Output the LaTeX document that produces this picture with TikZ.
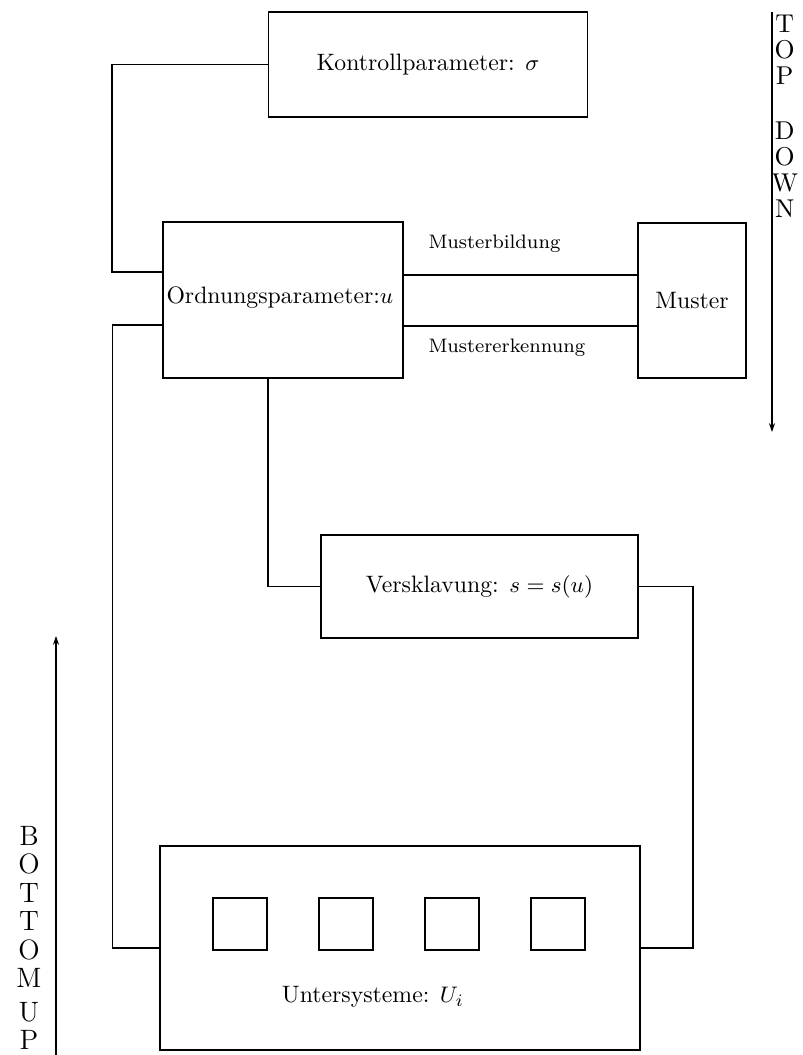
\documentclass[tikz,border=0pt]{standalone}
\usetikzlibrary{arrows.meta}
\begin{document}
\begin{tikzpicture}[x=0.4pt,y=-0.4pt,
  every node/.style={inner sep=0pt},
  box/.style 2 args={draw,line width=0.6pt,rectangle,
    minimum width=#1*0.4pt,minimum height=#2*0.4pt},
  boxtext/.style={font=\fontsize{9.5}{11}\selectfont},
  flowlabel/.style={font=\fontsize{7.8}{10}\selectfont,anchor=west},
  wire/.style={line width=0.6pt},
  sidearrow/.style={line width=0.6pt,-{Stealth[length=3.5pt,width=2.4pt]}},
  sidetext/.style={align=center}]
\useasboundingbox (0,0) rectangle (802,1055);

% main blocks
\node[box={319}{105},boxtext] (kontroll) at (428,64.5) {Kontrollparameter: $\sigma$};
\node[box={240}{156}] (ordnung) at (283,300) {};
\node[boxtext,anchor=west] (ordtext) at (166,298) {Ordnungsparameter:$u$};
\node[box={108}{155},boxtext] (muster) at (692,300.5) {Muster};
\node[box={317}{103},boxtext] (versk) at (479.5,586.5) {Versklavung: $s=s(u)$};
\node[box={480}{204}] (unter) at (400,948) {};
\node[boxtext] (untertext) at (373,997) {Untersysteme: $U_i$};

% subsystems
\foreach \cx [count=\k] in {240,346,452,558}
  \node[box={54}{52}] (sub\k) at (\cx,924) {};

% pattern formation / recognition
\draw[wire] ([yshift=10pt]ordnung.east) -- ([yshift=10pt]ordnung.east -| muster.west);
\draw[wire] ([yshift=-10.4pt]ordnung.east) -- ([yshift=-10.4pt]ordnung.east -| muster.west);
\node[flowlabel] (mbild) at (428,244) {Musterbildung};
\node[flowlabel] (merk) at (428,348) {Mustererkennung};

% feedback paths
\draw[wire] (kontroll.west) -- ++(-156,0) |- ([yshift=11.2pt]ordnung.west);
\draw[wire] ([yshift=-10pt]ordnung.west) -- ++(-50,0) |- (unter.west);
\draw[wire] ([xshift=-6pt]ordnung.south) |- (versk.west);
\draw[wire] (versk.east) -- ++(54,0) |- (unter.east);

% direction markers
\coordinate (tdtop) at (772,12);
\coordinate (tdend) at (772,432);
\draw[sidearrow] (tdtop) -- (tdend);
\node[sidetext,anchor=north west,font=\fontsize{10.3}{10.4}\selectfont] (tdlabel) at (771,15)
  {T\\O\\P\\[11.4pt]D\\O\\W\\N};

\coordinate (bubot) at (56,1055);
\coordinate (butop) at (56,636);
\draw[sidearrow] (bubot) -- (butop);
\node[sidetext,anchor=south,font=\fontsize{11.2}{11.4}\selectfont] (bulabel) at (29,1050)
  {B\\O\\T\\T\\O\\M\\[2pt]U\\P};
\end{tikzpicture}
\end{document}
